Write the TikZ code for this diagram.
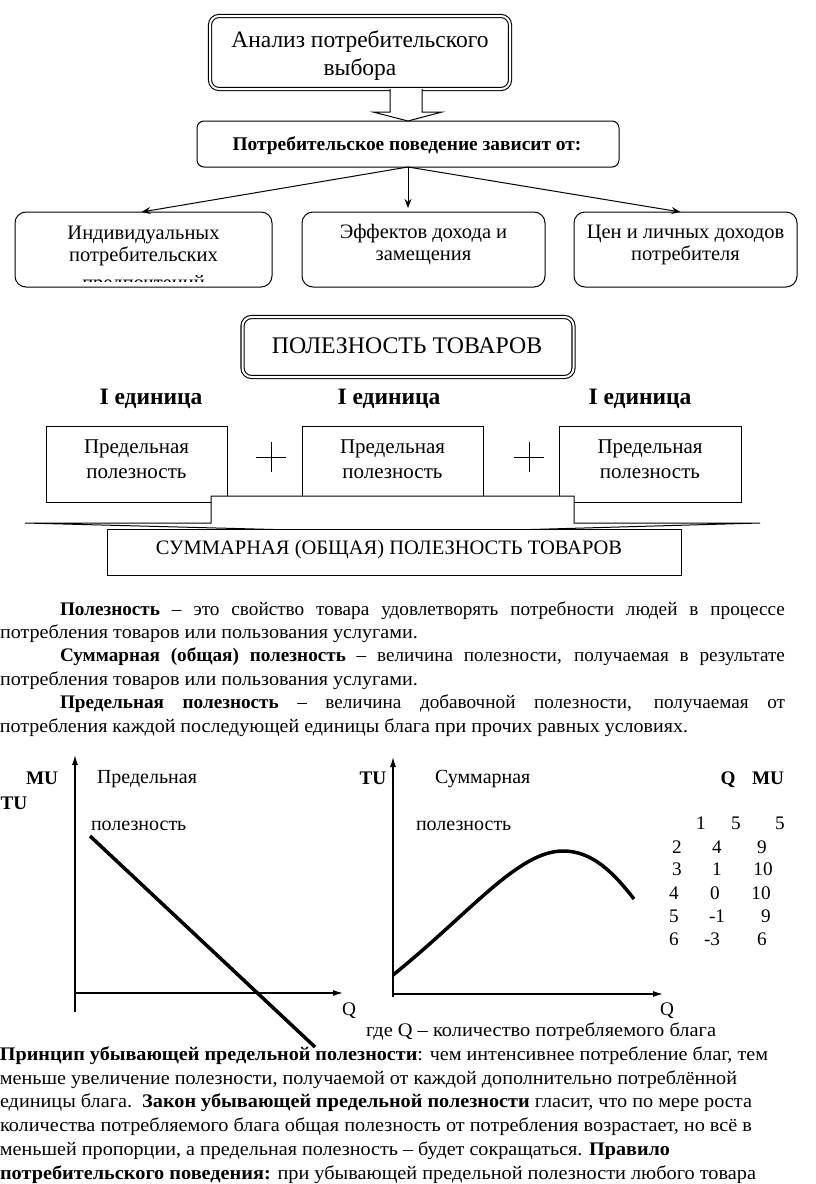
\documentclass[tikz,border=0pt]{standalone}
\usepackage{fontspec}
\usepackage{graphicx}
\setmainfont{Liberation Serif}
\usetikzlibrary{arrows.meta,calc}
\newcommand\fsz[2]{\fontsize{#1}{#2}\selectfont}
\newcommand\fitto[2]{\resizebox{#1}{\height}{#2}}
\begin{document}
\begin{tikzpicture}[x=1pt,y=-1pt,
  every node/.style={inner sep=0pt,outer sep=0pt},
  dbox/.style={draw,double,double distance=2pt,line width=1.1pt,rounded corners=9pt,fill=white},
  rbox/.style={draw,line width=1pt,rounded corners=11pt,fill=white},
  sq/.style={draw,line width=1pt,fill=white},
  boxt/.style={font=\fsz{20.5}{22},align=center},
  pmt/.style={font=\fsz{21}{25},align=center},
  t/.style={font=\fsz{19.2}{23},anchor=base west},
  gl/.style={font=\fsz{20}{23},anchor=base west},
  c/.style={font=\fsz{19.2}{23},anchor=base},
  cb/.style={font=\bfseries\fsz{19.2}{23},anchor=base},
  unit/.style={font=\bfseries\fsz{23.5}{26},anchor=base},
  arr/.style={line width=1pt,-{Stealth[length=9pt,width=7pt]}},
  axis/.style={line width=1.2pt,-{Latex[length=10pt,width=6pt]}},
  hollow/.style={line width=1pt,fill=white,line join=miter}]
\fill[white] (0,0) rectangle (816,1184);
\useasboundingbox (0,0) rectangle (816,1184);

% ---------- top block
\node[dbox,minimum width=300,minimum height=73] (title) at (360,52.5) {};
\node[align=center,font=\fsz{23.5}{28}] (titlet) at (360,56) {Анализ потребительского\\выбора};
\node[rbox,rounded corners=7pt,minimum width=422,minimum height=46] (dep) at (408,144) {};
\node[font=\bfseries\fsz{19.4}{23}] (dept) at (407,145.5) {Потребительское поведение зависит от:};
\draw[hollow] ([xshift=30pt]title.south) |- ([xshift=-35pt,yshift=9pt]dep.north) -- (dep.north) -- ([xshift=34pt,yshift=9pt]dep.north) -| ([xshift=62pt]title.south);

\node[rbox,minimum width=257,minimum height=75] (b1) at (143.5,249.5) {};
\node[rbox,minimum width=243,minimum height=75] (b2) at (423.5,249.5) {};
\node[rbox,minimum width=223,minimum height=75] (b3) at (685.5,249.5) {};
\node[boxt] (b1t) at (143.5,246) {Индивидуальных\\потребительских};
\begin{scope}
  \clip ([xshift=2pt]b1.north west) rectangle ([xshift=-2pt,yshift=6pt]b1.south east);
  \node[font=\fsz{20.5}{22},anchor=base] (b1c) at (143.5,289) {предпочтений};
\end{scope}
\node[boxt] (b2t) at (423.5,245) {Эффектов дохода и\\замещения};
\node[boxt] (b3t) at (685.5,245) {Цен и личных доходов\\потребителя};

\draw[arr] (dep.south) -- ([xshift=-2pt]b1.north);
\draw[arr,shorten >=4pt] (dep.south) -- (dep.south |- b2.north);
\draw[arr] (dep.south) -- ([xshift=-5pt]b3.north);

% ---------- utility block
\node[dbox,minimum width=331,minimum height=60] (pol) at (408,347) {};
\node[font=\fsz{23.8}{26}] (polt) at (407,346) {ПОЛЕЗНОСТЬ ТОВАРОВ};
\node[unit] (u1) at (151,404) {I единица};
\node[unit] (u2) at (389,404) {I единица};
\node[unit] (u3) at (640,404) {I единица};

\node[sq,minimum width=181,minimum height=76] (pm1) at (136.5,464) {};
\node[sq,minimum width=181,minimum height=70] (pm2) at (392.5,461) {};
\node[sq,minimum width=182,minimum height=76] (pm3) at (650,464) {};
\node[pmt] (pm1t) at (136.5,459) {Предельная\\полезность};
\node[pmt] (pm2t) at (392.5,459) {Предельная\\полезность};
\node[pmt] (pm3t) at (650,459) {Предельная\\полезность};

\coordinate (plus1) at (271,457);
\coordinate (plus2) at (529,457);
\draw[line width=0.8pt] ([yshift=15pt]plus1) -- ([yshift=-15pt]plus1) ([xshift=-15pt]plus1) -- ([xshift=15pt]plus1);
\draw[line width=0.8pt] ([yshift=15pt]plus2) -- ([yshift=-15pt]plus2) ([xshift=-15pt]plus2) -- ([xshift=15pt]plus2);

\draw[hollow] (211,496) -- (211,523) -- (25,523) -- (408,533) -- (760,523) -- (574,523) -- (574,496) -- cycle;
\node[sq,minimum width=574,minimum height=46] (sum) at (394,552) {};
\node[font=\fsz{20.5}{22}] (sumt) at (389,550) {СУММАРНАЯ (ОБЩАЯ) ПОЛЕЗНОСТЬ ТОВАРОВ};

% ---------- definitions
\node[t] (p1a) at (60,615) {\makebox[725pt][s]{\textbf{Полезность} – это свойство товара удовлетворять потребности людей в процессе}};
\node[t] (p1b) at (0,638.4) {\fitto{418pt}{потребления товаров или пользования услугами.}};
\node[t] (p2a) at (60,661.8) {\makebox[725pt][s]{\textbf{Суммарная (общая) полезность} – величина полезности, получаемая в результате}};
\node[t] (p2b) at (0,685.2) {\fitto{418pt}{потребления товаров или пользования услугами.}};
\node[t] (p3a) at (60,708.6) {\makebox[725pt][s]{\textbf{Предельная полезность} – величина добавочной полезности, получаемая от}};
\node[t] (p3b) at (0,732) {\fitto{688pt}{потребления каждой последующей единицы блага при прочих равных условиях.}};

% ---------- left graph
\coordinate (La) at (75,1012);
\coordinate (Lb) at (75,755);
\coordinate (Lc) at (75,993);
\coordinate (Ld) at (343,993);
\draw[axis] (La) -- (Lb);
\draw[axis] (Lc) -- (Ld);
\draw[line width=3.5pt] (90,836) -- (315,1047);
\node[cb] (mu) at (42,784) {MU};
\node[cb] (tu1) at (14,809) {TU};
\node[gl] (lg1) at (97,783) {Предельная};
\node[gl] (lg2) at (91,830) {полезность};
\node[c] (q1) at (349,1015) {Q};

% ---------- right graph
\coordinate (Ra) at (393,997);
\coordinate (Rb) at (393,757);
\coordinate (Rc) at (393,994);
\coordinate (Rd) at (663,994);
\draw[axis] (Ra) -- (Rb);
\draw[axis] (Rc) -- (Rd);
\draw[line width=3.5pt] (393,975) .. controls (470,913) and (518,851) .. (563,851) .. controls (592,851) and (613,872) .. (634,899);
\node[cb] (tu2) at (373,784) {TU};
\node[gl] (rg1) at (435,783) {Суммарная};
\node[gl] (rg2) at (416,830) {полезность};
\node[c] (q2) at (667,1015) {Q};

% ---------- table
\node[cb] (tq) at (728,784) {Q};
\node[cb] (tm) at (768,784) {MU};
\node[c] (a1) at (701,829.5) {1};
\node[c] (b1n) at (736,829.5) {5};
\node[c] (c1) at (780,829.5) {5};
\node[c] (a2) at (677,853.5) {2};
\node[c] (b2n) at (717,853.5) {4};
\node[c] (c2) at (762,853.5) {9};
\node[c] (a3) at (677,875.5) {3};
\node[c] (b3n) at (717,875.5) {1};
\node[c] (c3) at (763,875.5) {10};
\node[c] (a4) at (674,899.5) {4};
\node[c] (b4n) at (715,899.5) {0};
\node[c] (c4) at (761,899.5) {10};
\node[c] (a5) at (674,922.5) {5};
\node[c] (b5n) at (717,922.5) {-1};
\node[c] (c5) at (766,922.5) {9};
\node[c] (a6) at (674,945.5) {6};
\node[c] (b6n) at (712,945.5) {-3};
\node[c] (c6) at (762,945.5) {6};

% ---------- bottom text
\node[t] (g) at (366,1036) {\fitto{350pt}{где Q – количество потребляемого блага}};
\node[t] (r1) at (0,1060) {\fitto{768pt}{\textbf{Принцип убывающей предельной полезности}: чем интенсивнее потребление благ, тем}};
\node[t] (r2) at (0,1084) {\fitto{737pt}{меньше увеличение полезности, получаемой от каждой дополнительно потреблённой}};
\node[t] (r3) at (0,1107.5) {\fitto{752pt}{единицы блага.\ \ \textbf{Закон убывающей предельной полезности} гласит, что по мере роста}};
\node[t] (r4) at (0,1131) {\fitto{752pt}{количества потребляемого блага общая полезность от потребления возрастает, но всё в}};
\node[t] (r5) at (0,1155) {\fitto{670pt}{меньшей пропорции, а предельная полезность – будет сокращаться. \textbf{Правило}}};
\node[t] (r6) at (0,1179) {\fitto{756pt}{\textbf{потребительского поведения:} при убывающей предельной полезности любого товара}};
\end{tikzpicture}
\end{document}
